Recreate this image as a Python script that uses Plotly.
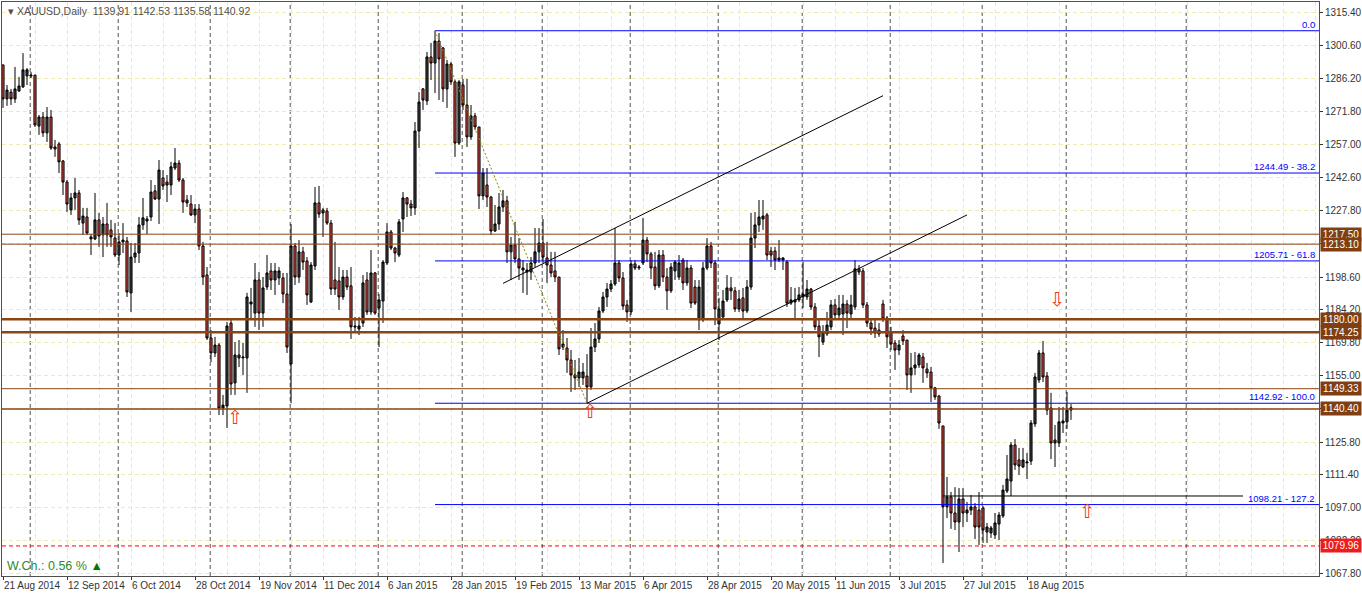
import plotly.graph_objects as go

# ---------------- data ----------------
date_tick_bars = [0, 16, 32, 48, 64, 80, 96, 112, 128, 144, 160, 176, 192, 208, 224, 240, 256]
date_tick_labels = ["21 Aug 2014", "12 Sep 2014", "6 Oct 2014", "28 Oct 2014", "19 Nov 2014",
                    "11 Dec 2014", "6 Jan 2015", "28 Jan 2015", "19 Feb 2015", "13 Mar 2015",
                    "6 Apr 2015", "28 Apr 2015", "20 May 2015", "11 Jun 2015", "3 Jul 2015",
                    "27 Jul 2015", "18 Aug 2015"]
month_start_bars = [7, 29, 52, 72, 94, 115, 135, 157, 179, 200, 222, 245, 266, 296]
price_ticks = [1315.40, 1300.60, 1286.20, 1271.80, 1257.00, 1242.60, 1227.80, 1213.20, 1198.60,
               1184.20, 1169.80, 1155.00, 1140.40, 1125.80, 1111.40, 1097.00, 1082.20, 1067.80]

opens = [1292.2, 1277.2, 1280.2, 1277.2, 1280.7, 1282.5, 1287.3, 1287.3, 1287.7, 1265.2,
         1269.2, 1262.2, 1269.2, 1256.0, 1257.3, 1249.8, 1240.5, 1228.2, 1233.5, 1235.7,
         1222.4, 1225.1, 1216.3, 1215.4, 1223.8, 1217.2, 1222.0, 1219.4, 1215.8, 1208.3,
         1214.1, 1214.5, 1191.6, 1207.4, 1209.2, 1221.6, 1223.3, 1225.1, 1236.6, 1233.0,
         1242.3, 1240.5, 1239.2, 1246.7, 1248.9, 1241.4, 1232.6, 1230.8, 1226.0, 1228.6,
         1212.3, 1199.5, 1171.7, 1165.1, 1168.6, 1140.8, 1141.7, 1178.3, 1151.9, 1164.2,
         1162.9, 1162.9, 1186.7, 1182.7, 1197.3, 1182.7, 1194.2, 1201.3, 1197.3, 1198.2,
         1198.2, 1191.1, 1160.2, 1212.3, 1198.6, 1209.7, 1205.7, 1187.6, 1203.5, 1231.3,
         1228.2, 1227.7, 1222.4, 1197.3, 1196.9, 1189.8, 1198.6, 1194.7, 1177.0, 1175.7,
         1178.3, 1197.3, 1183.2, 1200.4, 1184.9, 1188.0, 1204.8, 1218.5, 1211.4, 1208.3,
         1224.2, 1233.5, 1230.8, 1229.1, 1263.0, 1281.6, 1276.3, 1295.7, 1293.0, 1302.7,
         1299.7, 1281.6, 1292.6, 1284.7, 1257.7, 1283.3, 1274.5, 1260.4, 1269.7, 1264.8,
         1234.4, 1239.2, 1233.9, 1218.9, 1222.0, 1229.5, 1232.2, 1209.7, 1212.7, 1206.6,
         1201.7, 1200.8, 1200.8, 1204.8, 1209.7, 1213.6, 1207.0, 1203.9, 1201.3, 1198.6,
         1167.7, 1167.3, 1162.0, 1155.4, 1154.1, 1154.1, 1154.9, 1150.1, 1167.7, 1171.3,
         1183.6, 1189.8, 1193.3, 1195.5, 1204.8, 1198.2, 1186.3, 1183.2, 1204.4, 1202.6,
         1204.8, 1214.9, 1208.8, 1203.0, 1194.7, 1208.3, 1198.6, 1192.5, 1201.3, 1198.6,
         1206.1, 1196.0, 1202.6, 1194.2, 1179.7, 1179.7, 1202.6, 1212.3, 1204.8, 1177.9,
         1181.0, 1188.5, 1193.8, 1192.5, 1184.5, 1189.4, 1183.6, 1194.2, 1215.8, 1221.6,
         1224.2, 1226.0, 1210.1, 1210.1, 1206.1, 1206.1, 1205.2, 1187.1, 1187.6, 1188.5,
         1189.8, 1189.8, 1193.3, 1185.4, 1177.0, 1169.9, 1173.5, 1176.6, 1186.3, 1181.9,
         1182.3, 1186.7, 1182.3, 1185.4, 1202.2, 1201.3, 1186.3, 1178.3, 1176.1, 1175.2,
         1186.7, 1180.5, 1174.4, 1169.5, 1166.4, 1172.6, 1170.8, 1155.4, 1158.5, 1159.8,
         1163.3, 1158.0, 1156.7, 1149.7, 1146.1, 1132.9, 1097.2, 1101.6, 1094.5, 1090.5,
         1100.7, 1094.5, 1095.8, 1097.2, 1095.8, 1096.7, 1086.1, 1085.7, 1084.8, 1089.6,
         1093.2, 1104.2, 1108.6, 1124.5, 1117.9, 1114.8, 1116.6, 1117.4, 1133.8, 1153.2,
         1165.1, 1154.9, 1140.8, 1126.7, 1125.4, 1134.2, 1134.7, 1139.91]
highs = [1292.2, 1283.3, 1281.6, 1291.3, 1286.9, 1297.4, 1290.8, 1289.1, 1287.7, 1270.1,
         1271.4, 1273.6, 1272.3, 1259.1, 1258.2, 1250.2, 1241.4, 1235.7, 1242.3, 1237.0,
         1229.1, 1229.1, 1217.6, 1235.7, 1226.9, 1225.1, 1231.3, 1223.8, 1222.4, 1218.0,
         1222.4, 1216.3, 1213.6, 1213.6, 1225.1, 1233.5, 1225.5, 1241.4, 1239.2, 1250.2,
         1245.8, 1243.6, 1249.4, 1255.5, 1250.2, 1242.3, 1234.8, 1234.8, 1230.8, 1230.8,
         1214.1, 1203.0, 1175.2, 1172.2, 1169.5, 1146.6, 1178.8, 1179.7, 1169.9, 1170.8,
         1169.5, 1191.6, 1193.8, 1204.8, 1200.8, 1198.6, 1208.3, 1204.8, 1204.8, 1203.0,
         1200.4, 1200.4, 1222.0, 1213.6, 1214.9, 1211.9, 1207.4, 1205.2, 1238.3, 1238.8,
         1229.1, 1229.1, 1223.8, 1214.1, 1203.0, 1201.7, 1201.7, 1203.0, 1181.0, 1181.0,
         1199.5, 1200.8, 1210.5, 1200.8, 1191.1, 1206.1, 1222.4, 1219.4, 1211.9, 1224.2,
         1236.1, 1233.9, 1232.6, 1267.0, 1280.2, 1282.0, 1297.9, 1301.9, 1307.26, 1306.3,
         1300.1, 1294.4, 1293.5, 1285.5, 1285.5, 1286.0, 1286.0, 1274.5, 1271.0, 1264.8,
         1246.7, 1246.7, 1234.4, 1230.4, 1235.7, 1237.0, 1234.4, 1216.3, 1222.9, 1215.8,
         1206.1, 1204.8, 1207.4, 1220.2, 1220.2, 1224.2, 1214.1, 1209.7, 1209.7, 1198.6,
         1175.2, 1171.7, 1166.4, 1162.0, 1162.9, 1160.7, 1164.6, 1176.1, 1178.3, 1185.4,
         1192.0, 1196.0, 1197.3, 1220.2, 1206.1, 1200.8, 1188.5, 1206.1, 1206.1, 1203.9,
         1224.7, 1216.3, 1209.7, 1209.7, 1210.5, 1210.5, 1202.6, 1204.8, 1206.1, 1208.3,
         1207.0, 1206.1, 1203.9, 1197.3, 1197.3, 1205.2, 1215.8, 1214.1, 1206.1, 1189.4,
         1192.9, 1199.5, 1198.6, 1194.2, 1192.9, 1193.8, 1197.3, 1226.9, 1227.3, 1232.6,
         1232.6, 1226.9, 1211.9, 1211.9, 1214.9, 1207.4, 1206.1, 1194.2, 1193.8, 1194.2,
         1205.2, 1197.3, 1193.8, 1187.1, 1179.7, 1177.4, 1183.2, 1188.5, 1188.9, 1190.7,
         1190.7, 1188.5, 1190.7, 1206.1, 1203.9, 1202.6, 1187.6, 1179.7, 1180.5, 1178.3,
         1188.5, 1181.4, 1176.6, 1170.8, 1170.8, 1175.2, 1170.8, 1165.1, 1165.5, 1165.1,
         1165.1, 1160.7, 1158.9, 1150.1, 1146.6, 1132.9, 1110.4, 1103.8, 1105.9, 1105.5,
         1105.5, 1099.4, 1102.4, 1098.9, 1103.8, 1097.6, 1090.1, 1088.8, 1094.5, 1094.9,
         1106.9, 1120.1, 1125.8, 1127.1, 1123.2, 1123.2, 1121.0, 1135.5, 1156.3, 1166.4,
         1170.4, 1156.7, 1147.5, 1133.3, 1141.3, 1141.3, 1147.9, 1142.53]
lows = [1273.2, 1274.1, 1274.5, 1275.4, 1280.2, 1282.0, 1283.3, 1286.4, 1264.8, 1261.3,
        1260.4, 1258.2, 1254.7, 1251.6, 1244.5, 1234.8, 1227.3, 1226.0, 1228.2, 1221.6,
        1217.2, 1217.2, 1208.3, 1214.9, 1211.9, 1207.4, 1211.9, 1211.9, 1207.4, 1203.9,
        1209.2, 1189.8, 1183.2, 1204.8, 1204.8, 1219.4, 1217.6, 1223.3, 1232.6, 1222.0,
        1237.0, 1231.7, 1234.8, 1245.8, 1240.5, 1226.9, 1229.5, 1225.5, 1222.4, 1210.5,
        1195.1, 1170.8, 1161.1, 1163.3, 1137.7, 1137.7, 1132.0, 1146.6, 1146.6, 1158.9,
        1155.4, 1147.5, 1179.7, 1176.6, 1175.2, 1176.6, 1192.9, 1192.9, 1190.7, 1195.1,
        1187.1, 1165.1, 1143.0, 1195.1, 1196.0, 1201.7, 1186.3, 1187.1, 1201.7, 1224.7,
        1216.3, 1221.6, 1190.7, 1190.7, 1184.1, 1188.5, 1192.9, 1171.3, 1173.9, 1173.0,
        1176.6, 1181.9, 1181.9, 1181.9, 1167.7, 1178.3, 1203.9, 1210.5, 1205.2, 1207.4,
        1218.5, 1225.1, 1225.5, 1226.0, 1255.5, 1272.3, 1274.5, 1285.5, 1279.8, 1276.7,
        1275.8, 1273.2, 1283.3, 1251.6, 1256.9, 1272.3, 1256.0, 1259.1, 1263.5, 1228.6,
        1232.6, 1229.5, 1217.2, 1218.5, 1219.4, 1227.3, 1204.8, 1197.3, 1204.8, 1197.3,
        1191.6, 1190.7, 1197.3, 1203.0, 1204.8, 1204.8, 1196.0, 1198.6, 1196.4, 1164.2,
        1166.4, 1156.3, 1147.9, 1148.8, 1150.1, 1151.0, 1142.92, 1148.8, 1165.5, 1169.5,
        1182.7, 1185.4, 1192.0, 1194.7, 1196.4, 1184.1, 1178.8, 1181.9, 1201.7, 1201.7,
        1203.9, 1205.2, 1197.7, 1192.9, 1193.8, 1196.4, 1184.1, 1191.6, 1197.3, 1197.3,
        1192.9, 1194.7, 1184.9, 1186.3, 1175.2, 1178.8, 1201.7, 1202.6, 1177.4, 1170.8,
        1179.7, 1187.6, 1188.5, 1183.2, 1183.2, 1179.7, 1182.7, 1192.9, 1211.4, 1218.5,
        1219.4, 1206.1, 1203.0, 1201.7, 1205.2, 1201.7, 1185.4, 1186.3, 1180.5, 1187.6,
        1184.9, 1188.5, 1184.1, 1175.2, 1163.3, 1168.6, 1172.6, 1175.2, 1179.7, 1180.5,
        1173.0, 1176.1, 1180.5, 1184.1, 1199.5, 1184.9, 1176.6, 1173.0, 1171.7, 1172.2,
        1178.8, 1167.3, 1166.4, 1157.6, 1164.2, 1168.6, 1148.8, 1147.5, 1155.4, 1158.5,
        1151.9, 1154.1, 1143.5, 1144.4, 1131.6, 1072.4, 1092.3, 1087.5, 1087.0, 1077.3,
        1088.3, 1090.5, 1093.6, 1083.0, 1080.4, 1081.3, 1081.3, 1083.5, 1083.0, 1082.6,
        1092.3, 1103.3, 1102.0, 1113.5, 1111.3, 1114.3, 1109.5, 1115.7, 1132.5, 1151.9,
        1152.3, 1137.7, 1118.3, 1114.8, 1123.6, 1129.8, 1131.6, 1135.58]
closes = [1277.2, 1281.1, 1277.2, 1281.6, 1282.9, 1290.0, 1290.0, 1287.7, 1265.7, 1269.2,
          1262.2, 1269.2, 1255.5, 1255.1, 1249.4, 1240.5, 1230.8, 1233.5, 1235.7, 1223.8,
          1225.5, 1218.0, 1215.4, 1223.8, 1216.7, 1222.0, 1217.2, 1216.3, 1208.3, 1214.1,
          1214.9, 1192.0, 1207.4, 1209.2, 1221.6, 1224.7, 1224.2, 1236.1, 1233.0, 1245.8,
          1238.8, 1239.2, 1247.2, 1248.9, 1241.4, 1231.7, 1231.3, 1226.0, 1228.6, 1212.3,
          1198.6, 1171.7, 1165.1, 1168.6, 1140.8, 1142.1, 1177.0, 1151.4, 1164.2, 1162.9,
          1163.3, 1189.8, 1187.6, 1197.3, 1182.7, 1193.8, 1200.4, 1197.3, 1201.3, 1201.3,
          1191.1, 1167.7, 1212.3, 1198.6, 1209.7, 1205.2, 1190.7, 1203.9, 1231.3, 1226.4,
          1226.9, 1222.4, 1193.3, 1193.3, 1189.8, 1198.6, 1194.2, 1176.6, 1176.6, 1177.0,
          1196.0, 1183.2, 1200.4, 1182.7, 1188.5, 1205.2, 1218.5, 1211.4, 1209.2, 1222.9,
          1233.5, 1230.8, 1229.1, 1263.0, 1275.8, 1276.7, 1295.7, 1293.0, 1302.7, 1294.8,
          1281.6, 1292.6, 1284.7, 1257.7, 1284.7, 1274.5, 1260.4, 1269.7, 1264.8, 1234.4,
          1244.5, 1233.9, 1218.9, 1222.0, 1229.5, 1232.2, 1209.7, 1212.7, 1206.6, 1202.6,
          1202.6, 1201.7, 1204.8, 1209.7, 1213.6, 1207.4, 1203.9, 1200.4, 1198.6, 1166.9,
          1169.1, 1162.0, 1155.4, 1154.1, 1156.7, 1156.7, 1150.1, 1167.7, 1171.3, 1183.6,
          1189.8, 1193.3, 1195.5, 1204.8, 1198.2, 1185.8, 1183.2, 1204.4, 1202.6, 1203.0,
          1214.9, 1208.8, 1202.6, 1194.7, 1208.3, 1198.6, 1192.5, 1203.0, 1205.2, 1204.8,
          1196.0, 1202.6, 1187.1, 1187.1, 1194.2, 1202.6, 1212.3, 1204.8, 1184.5, 1184.5,
          1188.0, 1193.8, 1192.5, 1184.5, 1188.9, 1183.6, 1194.2, 1215.8, 1221.6, 1225.1,
          1225.5, 1208.3, 1208.3, 1206.1, 1207.0, 1207.0, 1187.1, 1188.5, 1188.5, 1190.7,
          1191.1, 1193.3, 1185.4, 1176.6, 1172.2, 1174.4, 1177.4, 1186.3, 1181.9, 1184.9,
          1186.7, 1182.7, 1186.3, 1202.2, 1200.8, 1186.3, 1178.3, 1175.7, 1173.9, 1173.5,
          1180.1, 1172.2, 1169.1, 1166.4, 1168.6, 1170.4, 1155.4, 1158.5, 1159.8, 1164.2,
          1158.5, 1156.3, 1149.7, 1145.7, 1134.2, 1097.2, 1101.6, 1094.5, 1090.5, 1100.7,
          1094.5, 1095.8, 1097.2, 1088.3, 1088.3, 1087.0, 1088.3, 1087.9, 1090.1, 1093.6,
          1104.6, 1109.5, 1124.5, 1115.7, 1115.2, 1117.9, 1117.0, 1134.2, 1154.5, 1165.1,
          1154.5, 1139.9, 1125.4, 1125.4, 1134.7, 1135.1, 1139.9, 1140.92]

bars = list(range(len(opens)))

# support / resistance levels (brown), current-bid style level (red)
sr_levels = [1217.50, 1213.10, 1180.00, 1174.25, 1149.33, 1140.40]
sr_widths = [1, 1, 2.5, 2.5, 1, 1.5]
red_level = 1079.96
# Fibonacci retracement (anchored at bar 108 high / bar 146 low)
fib_anchor_bars = [108, 146]
fib_prices = [1307.26, 1244.49, 1205.71, 1142.92, 1098.21]
fib_ratios = ["0.0", "38.2", "61.8", "100.0", "127.2"]
# channel lines (bar, price pairs)
channel_upper = [(125, 1195.8), (220, 1278.6)]
channel_lower = [(146, 1142.92), (241, 1226.0)]
# black horizontal segment
seg_level = 1102.0
seg_bars = [235, 310]
# arrow objects: (bar, price, glyph)
arrows = [(58, 1136.9, "⇧"), (146.8, 1139.3, "⇧"), (263.5, 1188.9, "⇩"), (271, 1095.4, "⇧")]

# ---------------- figure ----------------
FONT = "Liberation Sans, Arial, sans-serif"
GRID = "rgb(240,234,180)"
BROWN = "#8B4513"

fig = go.Figure()
fig.add_trace(go.Candlestick(
    x=bars, open=opens, high=highs, low=lows, close=closes,
    increasing=dict(line=dict(color="#000000", width=1), fillcolor="#3a3c3e"),
    decreasing=dict(line=dict(color="#000000", width=1), fillcolor="#e8453c"),
    whiskerwidth=0, hoverinfo="skip", showlegend=False))

shapes = []
for b in month_start_bars:
    shapes.append(dict(type="line", xref="x", yref="paper", x0=b - 0.2, x1=b - 0.2, y0=0, y1=1,
                       line=dict(color="#505050", width=1, dash="4px,3px"), layer="below"))
for lv, w in zip(sr_levels, sr_widths):
    shapes.append(dict(type="line", xref="paper", yref="y", x0=0, x1=1, y0=lv, y1=lv,
                       line=dict(color=BROWN, width=w), layer="above"))
shapes.append(dict(type="line", xref="paper", yref="y", x0=0, x1=1, y0=red_level, y1=red_level,
                   line=dict(color="#ff0000", width=1, dash="4px,3px"), layer="above"))
for p in fib_prices:
    shapes.append(dict(type="line", xref="x", yref="y", x0=fib_anchor_bars[0], x1=329, y0=p, y1=p,
                       line=dict(color="#0000ff", width=1), layer="above"))
shapes.append(dict(type="line", xref="x", yref="y", x0=fib_anchor_bars[0], y0=fib_prices[0],
                   x1=fib_anchor_bars[1], y1=fib_prices[3],
                   line=dict(color="#8a8a00", width=1, dash="2px,2px"), layer="above"))
for (b0, p0), (b1, p1) in [channel_upper, channel_lower]:
    shapes.append(dict(type="line", xref="x", yref="y", x0=b0, y0=p0, x1=b1, y1=p1,
                       line=dict(color="#000000", width=1), layer="above"))
shapes.append(dict(type="line", xref="x", yref="y", x0=seg_bars[0], x1=seg_bars[1], y0=seg_level,
                   y1=seg_level, line=dict(color="#000000", width=1), layer="above"))

annotations = []
for lv in sr_levels:
    annotations.append(dict(xref="paper", yref="y", x=1, y=lv, xanchor="left", yanchor="middle",
                            xshift=1, text=f"{lv:.2f}", showarrow=False, bgcolor="#7f3f12",
                            width=38, height=11, borderpad=1, align="center",
                            font=dict(family=FONT, size=10, color="#ffffff")))
annotations.append(dict(xref="paper", yref="y", x=1, y=red_level, xanchor="left", yanchor="middle",
                        xshift=1, text=f"{red_level:.2f}", showarrow=False, bgcolor="#ee1c1c",
                        width=38, height=11, borderpad=1, align="center",
                        font=dict(family=FONT, size=10, color="#ffffff")))
for p, r in zip(fib_prices, fib_ratios):
    txt = r if r == "0.0" else f"{p:.2f} - {r}"
    annotations.append(dict(xref="paper", yref="y", x=1, y=p, xanchor="right", yanchor="bottom",
                            xshift=-2, yshift=-1, text=txt, showarrow=False,
                            font=dict(family=FONT, size=9.5, color="#0000ff")))
for b, p, g in arrows:
    annotations.append(dict(xref="x", yref="y", x=b, y=p, text=g, showarrow=False,
                            font=dict(family="DejaVu Sans", size=19, color="#f03a1a")))
annotations.append(dict(xref="paper", yref="paper", x=0, y=1, xanchor="left", yanchor="top",
                        xshift=4, yshift=-1,
                        text="▾ XAUUSD,Daily\u00a0\u00a01139.91 1142.53 1135.58 1140.92",
                        showarrow=False, font=dict(family=FONT, size=10.5, color="#505050")))
annotations.append(dict(xref="paper", yref="paper", x=0, y=0, xanchor="left", yanchor="bottom",
                        xshift=3, yshift=1, text="W.Ch.: 0.56 % <span style='color:#007a00'>▲</span>",
                        showarrow=False, font=dict(family=FONT, size=12.5, color="#2e8b2e")))

fig.update_layout(
    width=1362, height=594,
    margin=dict(l=2, r=43, t=2, b=18, autoexpand=False),
    paper_bgcolor="#ffffff", plot_bgcolor="#ffffff",
    showlegend=False, boxgap=0.25,
    shapes=shapes, annotations=annotations,
    xaxis=dict(range=[-0.25, 329], rangeslider=dict(visible=False), automargin=False,
               tickmode="array", tickvals=date_tick_bars, ticktext=date_tick_labels, tickangle=0,
               ticklabelposition="outside right", ticks="outside", ticklen=3, tickcolor="#333333",
               tickfont=dict(family=FONT, size=10, color="#333333"),
               showgrid=True, gridcolor=GRID, griddash="4px,3px", gridwidth=1,
               minor=dict(tickmode="linear", tick0=0, dtick=8, showgrid=True, gridcolor=GRID,
                          griddash="4px,3px", ticks=""),
               showline=True, mirror=True, linecolor="#505050", linewidth=1, zeroline=False),
    yaxis=dict(range=[1066.7, 1319.94], side="right", automargin=False,
               tickmode="array", tickvals=price_ticks, ticktext=[f"{v:.2f}" for v in price_ticks],
               ticks="outside", ticklen=3, tickcolor="#333333",
               tickfont=dict(family=FONT, size=10, color="#333333"),
               showgrid=True, gridcolor=GRID, griddash="4px,3px", gridwidth=1,
               showline=True, mirror=True, linecolor="#505050", linewidth=1, zeroline=False),
)

fig.write_html("out.html", config={"displayModeBar": False, "staticPlot": True},
               post_script="document.body.style.margin='0px';document.body.style.overflow='hidden';")
